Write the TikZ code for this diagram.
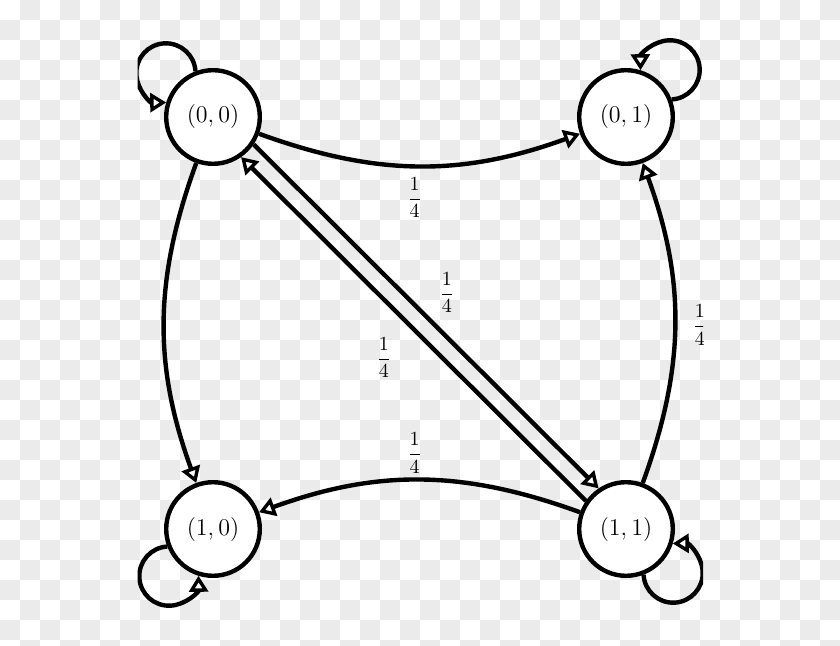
\documentclass[tikz,border=0pt]{standalone}
\usetikzlibrary{arrows.meta}
\definecolor{checkgray}{RGB}{235,235,235}
\begin{document}
\begin{tikzpicture}[x=0.5pt,y=0.5pt,
  state/.style={circle,draw,line width=2.2pt,fill=white,minimum size=46.8pt,inner sep=0pt,font=\fontsize{12}{14}\selectfont},
  trans/.style={line width=2.2pt,-{Triangle[fill=white,length=8pt,width=9.5pt,line width=1.7pt]}},
  prob/.style={font=\normalsize,inner sep=0pt}]
\useasboundingbox (0,0) rectangle (840,-646);
\begin{scope}
  \clip (0,0) rectangle (840,-646);
  \fill[white] (0,0) rectangle (840,-646);
  \foreach \i in {0,2,...,40}{\foreach \j in {1,3,...,31}{%
    \fill[checkgray] (20*\i,-20*\j) rectangle ++(20,-20);}}
  \foreach \i in {1,3,...,41}{\foreach \j in {0,2,...,32}{%
    \fill[checkgray] (20*\i,-20*\j) rectangle ++(20,-20);}}
\end{scope}
\begin{scope}
  \clip (137.5,0) rectangle (703,-646);
  \node[state] (A) at (213,-117) {$(0,0)$\hspace{4.5pt}};
  \node[state] (B) at (626,-117) {$(0,1)$\hspace{4.5pt}};
  \node[state] (C) at (213,-529) {$(1,0)$\hspace{4.5pt}};
  \node[state] (D) at (626,-529) {$(1,1)$\hspace{4.5pt}};
  % curved edges
  \draw[trans] (A) to[bend right=20] node[prob,yshift=-16pt,xshift=-2.5pt] {$\displaystyle\frac{1}{4}$} (B);
  \draw[trans] (A) to[bend right=20] (C);
  \draw[trans] (D) to[bend right=20] node[prob,yshift=13.5pt,xshift=-2.5pt] {$\displaystyle\frac{1}{4}$} (C);
  \draw[trans] (D) to[bend right=20] node[prob,xshift=12.5pt,yshift=-1pt] {$\displaystyle\frac{1}{4}$} (B);
  % diagonals
  \draw[trans] (A.-34.4) -- node[prob,shift={(20.7,23.6)}] {$\displaystyle\frac{1}{4}$} (D.124.4);
  \draw[trans] (D.145.6) -- node[prob,shift={(-29.6,-28.6)}] {$\displaystyle\frac{1}{4}$} (A.-55.6);
  % loops
  \draw[trans] (A.111.5) arc[start angle=3.2, end angle=270.6, radius=14.8pt];
  \draw[trans] (B.21.5) arc[start angle=-86.8, end angle=180.6, radius=14.8pt];
  \draw[trans] (C.201.5) arc[start angle=93.2, end angle=360.6, radius=14.8pt];
  \draw[trans] (D.291.5) arc[start angle=183.2, end angle=450.6, radius=14.8pt];
\end{scope}
\end{tikzpicture}
\end{document}
